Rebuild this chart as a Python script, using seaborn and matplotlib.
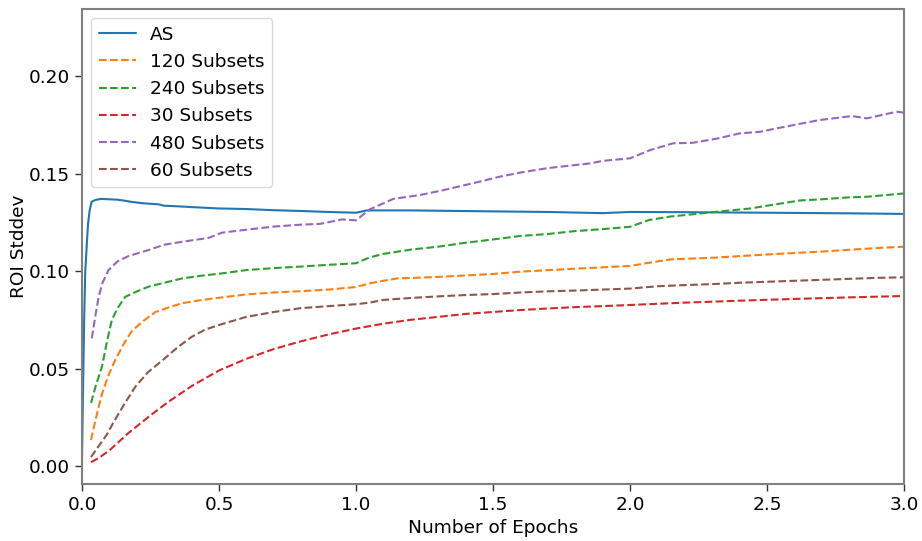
import matplotlib
matplotlib.use("Agg")
import matplotlib.pyplot as plt
import seaborn as sns
import pandas as pd

# ROI standard deviation vs. training epochs
as_x = [0.0, 0.004, 0.008, 0.012, 0.017, 0.022, 0.028, 0.035, 0.05, 0.07, 0.1, 0.13,
        0.15, 0.18, 0.22, 0.28, 0.3, 0.35, 0.4, 0.5, 0.6, 0.7, 0.8, 0.9, 1.0, 1.04,
        1.2, 1.5, 1.7, 1.9, 2.0, 2.2, 2.5, 2.8, 3.0]
as_y = [0.002, 0.04, 0.075, 0.1, 0.112, 0.124, 0.131, 0.1355, 0.1365, 0.137, 0.1368, 0.1366,
        0.1362, 0.1355, 0.1348, 0.1342, 0.1335, 0.1332, 0.1328, 0.1321, 0.1318, 0.1312, 0.1308, 0.1303, 0.1299, 0.1311,
        0.1311, 0.1306, 0.1303, 0.1297, 0.1303, 0.1302, 0.1299, 0.1296, 0.1293]

s120_x = [0.033, 0.05, 0.073, 0.095, 0.12, 0.15, 0.18, 0.22, 0.268, 0.32, 0.365, 0.43, 0.511,
          0.6, 0.7, 0.8, 0.9, 1.0, 1.05, 1.1, 1.15, 1.3, 1.5, 1.6, 1.8, 2.0, 2.08, 2.15,
          2.3, 2.5, 2.7, 2.9, 3.0]
s120_y = [0.0133, 0.024, 0.037, 0.046, 0.054, 0.062, 0.0689, 0.074, 0.079, 0.0815, 0.0835, 0.085, 0.0865,
          0.088, 0.089, 0.0897, 0.0905, 0.0918, 0.0937, 0.095, 0.0962, 0.097, 0.0985, 0.0997, 0.1012, 0.1026, 0.1045, 0.106,
          0.1068, 0.1085, 0.110, 0.1118, 0.1125]

s240_x = [0.033, 0.05, 0.073, 0.09, 0.109, 0.13, 0.158, 0.2, 0.243, 0.3, 0.365, 0.43, 0.511,
          0.6, 0.7, 0.8, 0.9, 1.0, 1.05, 1.1, 1.2, 1.3, 1.4, 1.5, 1.6, 1.7, 1.8, 1.9, 2.0,
          2.07, 2.15, 2.25, 2.3, 2.44, 2.5, 2.62, 2.7, 2.8, 2.864, 3.0]
s240_y = [0.0323, 0.041, 0.051, 0.063, 0.0749, 0.081, 0.0868, 0.0895, 0.092, 0.094, 0.0962, 0.0975, 0.0988,
          0.1005, 0.1015, 0.1023, 0.1032, 0.104, 0.107, 0.1088, 0.111, 0.1125, 0.1145, 0.1162, 0.118, 0.119, 0.1205, 0.1215, 0.1227,
          0.1262, 0.128, 0.1294, 0.1302, 0.1321, 0.1335, 0.1362, 0.1368, 0.1378, 0.1381, 0.1398]

s30_x = [0.033, 0.06, 0.1, 0.17, 0.25, 0.316, 0.4, 0.5, 0.6, 0.7, 0.8, 0.9, 1.0, 1.1, 1.2, 1.3,
         1.4, 1.5, 1.6, 1.7, 1.8, 1.9, 2.0, 2.2, 2.4, 2.6, 2.8, 3.0]
s30_y = [0.002, 0.004, 0.008, 0.017, 0.026, 0.033, 0.041, 0.049, 0.055, 0.060, 0.064, 0.0675, 0.0705, 0.073, 0.075, 0.0765,
         0.078, 0.079, 0.080, 0.0808, 0.0815, 0.082, 0.0826, 0.0838, 0.0848, 0.0857, 0.0865, 0.0872]

s480_x = [0.036, 0.05, 0.061, 0.075, 0.097, 0.13, 0.17, 0.243, 0.3, 0.365, 0.462, 0.511, 0.6, 0.7,
          0.8, 0.869, 0.95, 1.0, 1.05, 1.136, 1.234, 1.319, 1.45, 1.525, 1.6, 1.7, 1.854, 1.9, 2.0,
          2.073, 2.157, 2.23, 2.32, 2.40, 2.474, 2.547, 2.69, 2.81, 2.864, 2.973, 3.0]
s480_y = [0.0655, 0.078, 0.0868, 0.094, 0.1005, 0.105, 0.1077, 0.1108, 0.1135, 0.115, 0.117, 0.1197, 0.1212, 0.1228,
          0.1238, 0.1242, 0.1265, 0.126, 0.1316, 0.137, 0.139, 0.1415, 0.1458, 0.1484, 0.1505, 0.1528, 0.1552, 0.1565, 0.1578,
          0.162, 0.1655, 0.1658, 0.168, 0.1706, 0.1714, 0.1735, 0.1774, 0.1795, 0.1783, 0.1817, 0.1812]

s60_x = [0.033, 0.06, 0.09, 0.12, 0.16, 0.195, 0.24, 0.292, 0.35, 0.401, 0.45, 0.511, 0.6, 0.7,
         0.8, 0.9, 1.0, 1.05, 1.1, 1.2, 1.3, 1.4, 1.5, 1.6, 1.7, 1.8, 1.9, 2.0, 2.1, 2.2, 2.3,
         2.4, 2.5, 2.6, 2.7, 2.8, 2.9, 3.0]
s60_y = [0.0046, 0.010, 0.016, 0.0236, 0.033, 0.0407, 0.048, 0.054, 0.061, 0.0663, 0.070, 0.0728, 0.0765, 0.079,
         0.081, 0.082, 0.083, 0.0838, 0.0852, 0.0862, 0.087, 0.0877, 0.0882, 0.089, 0.0896, 0.090, 0.0905, 0.091, 0.0922, 0.0928, 0.0933,
         0.094, 0.0945, 0.095, 0.0955, 0.096, 0.0965, 0.0968]

series = [
    ("AS", as_x, as_y, "#1f77b4", "-"),
    ("120 Subsets", s120_x, s120_y, "#ff7f0e", "--"),
    ("240 Subsets", s240_x, s240_y, "#2ca02c", "--"),
    ("30 Subsets", s30_x, s30_y, "#d62728", "--"),
    ("480 Subsets", s480_x, s480_y, "#9467bd", "--"),
    ("60 Subsets", s60_x, s60_y, "#8c564b", "--"),
]

sns.set_theme(style="ticks")
plt.rcParams["font.family"] = ["DejaVu Sans"]
plt.rcParams["text.color"] = "black"
plt.rcParams["axes.labelcolor"] = "black"
plt.rcParams["xtick.color"] = "black"
plt.rcParams["ytick.color"] = "black"

FS = 13.3

fig = plt.figure(figsize=(9.22, 5.41), dpi=100)
ax = fig.add_axes([0.0889, 0.1054, 0.8916, 0.878])

for name, xs, ys, color, ls in series:
    df = pd.DataFrame({"x": xs, "y": ys})
    sns.lineplot(data=df, x="x", y="y", ax=ax, color=color, linestyle=ls,
                 linewidth=1.5, label=name, estimator=None, sort=False)

ax.set_xlim(0, 3.0)
ax.set_ylim(-0.0092, 0.2344)
ax.set_xticks([0.0, 0.5, 1.0, 1.5, 2.0, 2.5, 3.0])
ax.set_yticks([0.0, 0.05, 0.10, 0.15, 0.20])
ax.set_yticklabels(["0.00", "0.05", "0.10", "0.15", "0.20"])
ax.tick_params(labelsize=FS, length=5, width=1, color="#333333", labelcolor="black")
ax.set_xlabel("Number of Epochs", fontsize=FS, color="black")
ax.set_ylabel("ROI Stddev", fontsize=FS, color="black", labelpad=1)

for side in ["left", "right", "top", "bottom"]:
    ax.spines[side].set_visible(True)
    ax.spines[side].set_color("#808080")
    ax.spines[side].set_linewidth(1.5)

leg = ax.legend(loc="upper left", fontsize=FS, frameon=True, fancybox=True,
                borderaxespad=0.5)
leg.get_frame().set_edgecolor("#d0d0d0")
for t in leg.get_texts():
    t.set_color("black")

fig.savefig("out.png", dpi=100)
